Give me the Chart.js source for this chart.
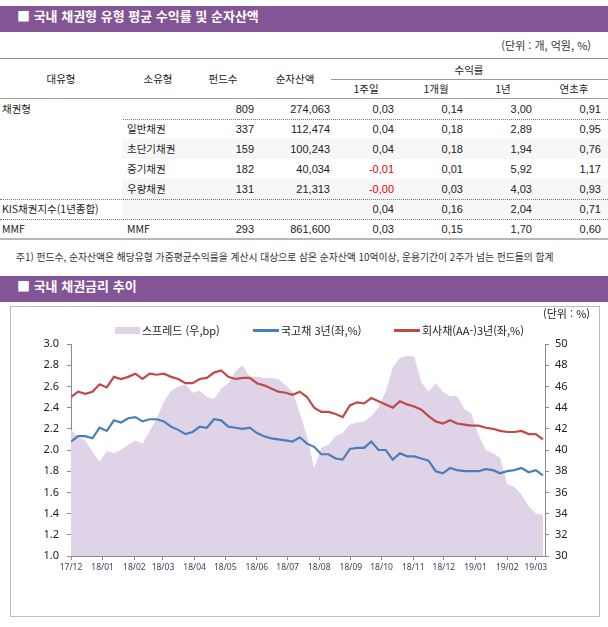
<!DOCTYPE html>
<html lang="ko">
<head>
<meta charset="utf-8">
<script src="https://cdn.jsdelivr.net/npm/chart.js@4.4.1/dist/chart.umd.min.js"></script>
<style>
    body {
        margin: 0; width: 608px; height: 627px; position: relative; overflow: hidden; background: #fff;
        font-family: "Liberation Sans", "Noto Sans CJK KR", sans-serif; color: #222;
    }
    .bar {
        position: absolute; left: 0; width: 608px; height: 26px; line-height: 26px; padding-left: 17px;
        box-sizing: border-box; background: #835496; color: #fff;
        font: bold 13px "Noto Sans CJK KR", sans-serif;
    }
    .t { position: absolute; font-size: 11px; line-height: 14px; white-space: nowrap; }
    .ko { font-family: "Noto Sans CJK KR", sans-serif; font-size: 10.5px; }
    .line { position: absolute; height: 0; }
    .shade { position: absolute; background: #f7f7f7; }
    #chartBox { position: absolute; left: 10px; top: 306px; width: 590px; height: 311px; border: 1px solid #bdbdbd; box-sizing: border-box; }
    #rateChart { position: absolute; left: 11px; top: 307px; }
    .leg { position: absolute; font: 11px "Noto Sans CJK KR", sans-serif; line-height: 14px; color: #222; white-space: nowrap; }
</style>
</head>
<body>
<div class="bar" style="top:6px">■ 국내 채권형 유형 평균 수익률 및 순자산액</div>
<div class="t ko" style="right:17px; top:38px; font-size:11px; color:#333">(단위 : 개, 억원, %)</div>
<div id="table"></div>
<div class="t ko" style="left:16px; top:250px; font-size:9.8px; color:#333">주1) 펀드수, 순자산액은 해당유형 가중평균수익률을 계산시 대상으로 삼은 순자산액 10억이상, 운용기간이 2주가 넘는 펀드들의 합계</div>

<div class="bar" style="top:276px">■ 국내 채권금리 추이</div>
<div id="chartBox"></div>
<canvas id="rateChart" width="586" height="309"></canvas>
<div class="leg" style="right:18px; top:306px">(단위 : %)</div>
<div id="legend"></div>

<script>
// table
const tableTypes = ['채권형', '', '', '', '', 'KIS채권지수(1년종합)', 'MMF'];
const tableSubTypes = ['', '일반채권', '초단기채권', '중기채권', '우량채권', '', 'MMF'];
const fundCounts = ['809', '337', '159', '182', '131', '', '293'];
const netAssets = ['274,063', '112,474', '100,243', '40,034', '21,313', '', '861,600'];
const ret1w = ['0,03', '0,04', '0,04', '-0,01', '-0,00', '0,04', '0,03'];
const ret1m = ['0,14', '0,18', '0,18', '0,01', '0,03', '0,16', '0,15'];
const ret1y = ['3,00', '2,89', '1,94', '5,92', '4,03', '2,04', '1,70'];
const retYtd = ['0,91', '0,95', '0,76', '1,17', '0,93', '0,71', '0,60'];

// chart
const monthLabels = ['17/12', '18/01', '18/02', '18/03', '18/04', '18/05', '18/06', '18/07',
    '18/08', '18/09', '18/10', '18/11', '18/12', '19/01', '19/02', '19/03'];
const weeks = [
    '2017-12-01', '2017-12-08', '2017-12-15', '2017-12-22', '2017-12-29',
    '2018-01-05', '2018-01-12', '2018-01-19', '2018-01-26',
    '2018-02-02', '2018-02-09', '2018-02-16', '2018-02-23',
    '2018-03-02', '2018-03-09', '2018-03-16', '2018-03-23', '2018-03-30',
    '2018-04-06', '2018-04-13', '2018-04-20', '2018-04-27',
    '2018-05-04', '2018-05-11', '2018-05-18', '2018-05-25',
    '2018-06-01', '2018-06-08', '2018-06-15', '2018-06-22', '2018-06-29',
    '2018-07-06', '2018-07-13', '2018-07-20', '2018-07-27',
    '2018-08-03', '2018-08-10', '2018-08-17', '2018-08-24', '2018-08-31',
    '2018-09-07', '2018-09-14', '2018-09-21', '2018-09-28',
    '2018-10-05', '2018-10-12', '2018-10-19', '2018-10-26',
    '2018-11-02', '2018-11-09', '2018-11-16', '2018-11-23', '2018-11-30',
    '2018-12-07', '2018-12-14', '2018-12-21', '2018-12-28',
    '2019-01-04', '2019-01-11', '2019-01-18', '2019-01-25',
    '2019-02-01', '2019-02-08', '2019-02-15', '2019-02-22',
    '2019-03-01', '2019-03-08'
];
const spread = [
    41.9, 41.2, 40.9, 39.8, 38.9, 39.9, 39.7, 40.0, 40.5, 40.9,
    40.6, 41.8, 43.0, 44.6, 45.6, 46.0, 46.2, 45.4, 45.6, 45.0,
    44.8, 45.8, 46.3, 47.4, 48.0, 46.9, 46.9, 46.8, 46.8, 46.7,
    46.1, 45.5, 43.5, 41.3, 38.3, 40.2, 40.5, 41.3, 41.6, 42.4,
    42.6, 42.7, 43.2, 44.0, 45.5, 47.8, 48.7, 48.9, 48.8, 46.4,
    45.5, 46.3, 45.5, 45.1, 45.1, 43.9, 43.4, 41.4, 40.0, 39.7,
    39.3, 36.8, 36.5, 35.8, 34.7, 34.0, 33.9
];
const ktb3y = [
    2.08, 2.13, 2.13, 2.11, 2.21, 2.18, 2.28, 2.26, 2.30, 2.31,
    2.27, 2.29, 2.29, 2.27, 2.22, 2.19, 2.15, 2.17, 2.22, 2.21,
    2.29, 2.28, 2.22, 2.21, 2.20, 2.21, 2.16, 2.13, 2.11, 2.10,
    2.09, 2.08, 2.12, 2.06, 2.03, 1.96, 1.96, 1.92, 1.91, 2.01,
    2.02, 2.02, 2.08, 2.00, 2.00, 1.91, 1.97, 1.94, 1.94, 1.92,
    1.90, 1.80, 1.78, 1.83, 1.81, 1.80, 1.80, 1.80, 1.82, 1.81,
    1.78, 1.80, 1.81, 1.83, 1.79, 1.81, 1.76
];
const corpAA3y = [
    2.50, 2.55, 2.53, 2.55, 2.62, 2.59, 2.69, 2.67, 2.69, 2.72,
    2.67, 2.72, 2.71, 2.72, 2.69, 2.67, 2.63, 2.63, 2.67, 2.68,
    2.73, 2.75, 2.69, 2.67, 2.68, 2.68, 2.63, 2.61, 2.58, 2.55,
    2.54, 2.52, 2.55, 2.50, 2.40, 2.36, 2.36, 2.34, 2.31, 2.42,
    2.45, 2.44, 2.49, 2.46, 2.43, 2.40, 2.46, 2.43, 2.41, 2.38,
    2.32, 2.27, 2.25, 2.28, 2.25, 2.24, 2.23, 2.23, 2.21, 2.20,
    2.18, 2.17, 2.17, 2.18, 2.15, 2.15, 2.10
];

// ---- table drawing
const tableEl = document.getElementById('table');
let html = '';
const hline = (top, left, width, style) =>
    `<div class="line" style="top:${top}px;left:${left}px;width:${width}px;border-top:${style}"></div>`;
const centered = (cx, cy, text) =>
    `<div class="t ko" style="left:${cx - 50}px;width:100px;text-align:center;top:${cy - 7}px">${text}</div>`;

[2, 4, 5].forEach(i => {
    html += `<div class="shade" style="left:122px;width:486px;top:${99 + i * 20}px;height:20px"></div>`;
});

html += hline(58, 0, 608, '1px solid #8e8e8e');
html += hline(79, 331, 277, '1px solid #9a9a9a');
html += hline(98, 0, 608, '1px solid #9a9a9a');
html += hline(119, 123, 485, '1px dotted #777');
html += hline(199, 0, 608, '1px dotted #777');
html += hline(219, 0, 608, '1px dotted #777');
html += hline(238, 0, 608, '2px solid #b8b8b8');

html += centered(61, 79, '대유형');
html += centered(158, 79, '소유형');
html += centered(223, 79, '펀드수');
html += centered(295, 79, '순자산액');
html += centered(469, 70, '수익률');
html += centered(366, 89, '1주일');
html += centered(436, 89, '1개월');
html += centered(503, 89, '1년');
html += centered(574, 89, '연초후');

const numCols = [
    { vals: fundCounts, right: 254 },
    { vals: netAssets, right: 330 },
    { vals: ret1w, right: 394 },
    { vals: ret1m, right: 463 },
    { vals: ret1y, right: 532 },
    { vals: retYtd, right: 601 }
];

tableTypes.forEach((type, i) => {
    const top = 109 + i * 20 - 7;
    if (type) html += `<div class="t ko" style="left:2px;top:${top}px">${type}</div>`;
    if (tableSubTypes[i]) html += `<div class="t ko" style="left:127px;top:${top}px">${tableSubTypes[i]}</div>`;
    numCols.forEach(col => {
        const v = col.vals[i];
        if (!v) return;
        const color = v.startsWith('-') ? '#e60000' : '#222';
        html += `<div class="t" style="right:${608 - col.right}px;top:${top}px;color:${color}">${v}</div>`;
    });
});
tableEl.innerHTML = html;

// ---- legend
document.getElementById('legend').innerHTML = `
    <div style="position:absolute;left:115px;top:327px;width:25px;height:7px;background:#dfd3e7"></div>
    <div class="leg" style="left:142px;top:323px">스프레드 (우,bp)</div>
    <div style="position:absolute;left:253px;top:329px;width:26px;height:3px;background:#4a7ebb"></div>
    <div class="leg" style="left:281px;top:323px">국고채 3년(좌,%)</div>
    <div style="position:absolute;left:394px;top:329px;width:26px;height:3px;background:#be4b48"></div>
    <div class="leg" style="left:422px;top:323px">회사채(AA-)3년(좌,%)</div>
`;

// ---- chart
const startDay = Date.parse('2017-12-01');
const toDay = s => (Date.parse(s) - startDay) / 86400000;
const monthTicks = monthLabels.map(l => toDay(`20${l.slice(0, 2)}-${l.slice(3)}-01`));
const axisColor = '#8c8c8c';

const toPoints = arr => weeks.map((d, i) => ({ x: toDay(d), y: arr[i] }));

new Chart(document.getElementById('rateChart'), {
    type: 'line',
    data: {
        datasets: [{
            label: '국고채 3년(좌,%)',
            data: toPoints(ktb3y),
            yAxisID: 'yL',
            borderColor: '#4a7ebb',
            borderWidth: 2.2,
            pointRadius: 0,
            tension: 0,
            order: 1
        }, {
            label: '회사채(AA-)3년(좌,%)',
            data: toPoints(corpAA3y),
            yAxisID: 'yL',
            borderColor: '#be4b48',
            borderWidth: 2.2,
            pointRadius: 0,
            tension: 0,
            order: 2
        }, {
            label: '스프레드 (우,bp)',
            data: toPoints(spread),
            yAxisID: 'yR',
            borderColor: 'rgba(0,0,0,0)',
            borderWidth: 0,
            backgroundColor: '#dfd3e7',
            fill: 'start',
            pointRadius: 0,
            tension: 0,
            order: 3
        }]
    },
    options: {
        responsive: false,
        animation: false,
        layout: { padding: { top: 37, left: 0, right: 0, bottom: 0 } },
        plugins: { legend: { display: false }, tooltip: { enabled: false } },
        scales: {
            x: {
                type: 'linear',
                min: 0,
                max: 464,
                afterBuildTicks: s => { s.ticks = monthTicks.map(v => ({ value: v })); },
                afterFit: s => { s.height = 60; },
                ticks: {
                    autoSkip: false,
                    maxRotation: 0,
                    padding: 2,
                    color: '#40405a',
                    font: { family: 'Noto Sans', size: 8.5 },
                    callback: v => monthLabels[monthTicks.indexOf(v)]
                },
                grid: { drawOnChartArea: false, tickLength: 4, color: axisColor },
                border: { color: axisColor }
            },
            yL: {
                position: 'left',
                min: 1,
                max: 3,
                afterFit: s => { s.width = 60; },
                ticks: {
                    stepSize: 0.2,
                    padding: 8,
                    color: '#222',
                    font: { family: 'Noto Sans', size: 11 },
                    callback: v => v.toFixed(1)
                },
                grid: { drawOnChartArea: false, tickLength: 4, color: axisColor },
                border: { color: axisColor }
            },
            yR: {
                position: 'right',
                min: 30,
                max: 50,
                afterFit: s => { s.width = 52; },
                ticks: {
                    stepSize: 2,
                    padding: 6,
                    color: '#222',
                    font: { family: 'Noto Sans', size: 11 }
                },
                grid: { drawOnChartArea: false, tickLength: 4, color: axisColor },
                border: { color: axisColor }
            }
        }
    }
});
</script>
</body>
</html>
